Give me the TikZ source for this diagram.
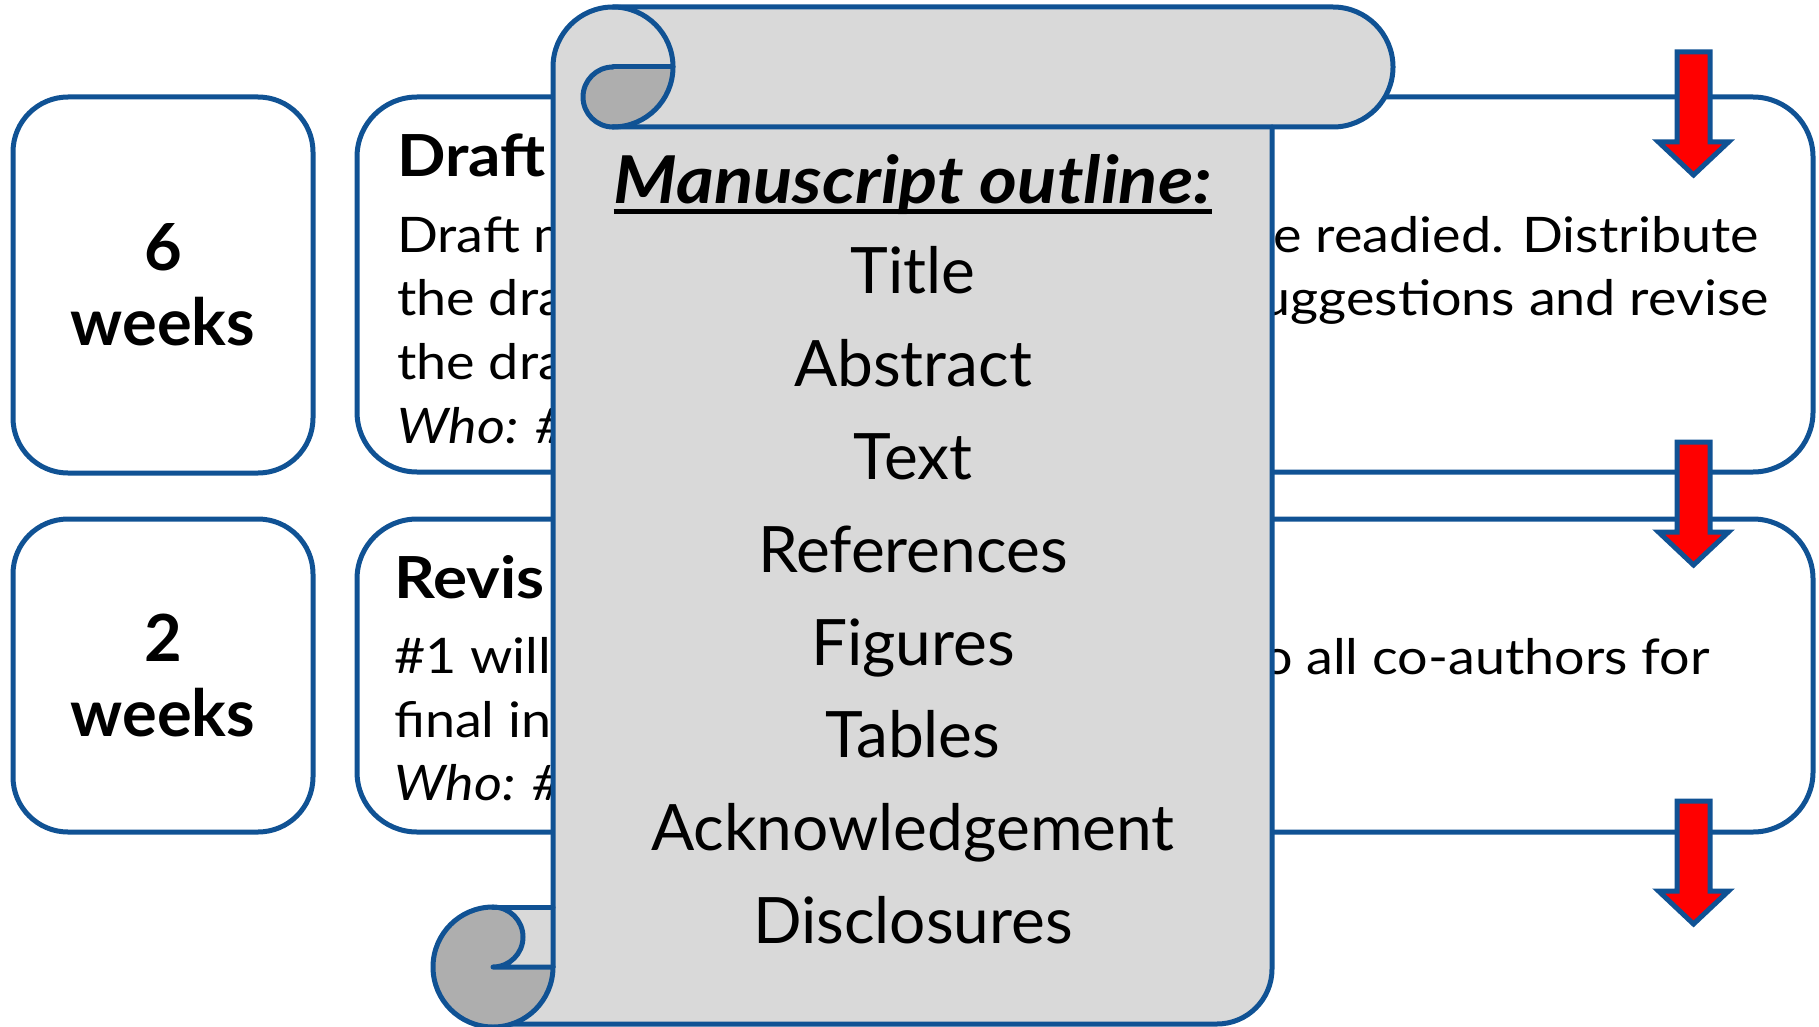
\documentclass[tikz,border=0pt]{standalone}
\usepackage{fontspec}
\setmainfont{Lato}
\newfontfamily\widefont[FakeStretch=1.1]{Lato}
\usetikzlibrary{calc}
\definecolor{bblue}{RGB}{16,82,148}
\definecolor{lgray}{RGB}{217,217,217}
\definecolor{dgray}{RGB}{174,174,174}
\tikzset{
  weekbox/.style={draw=bblue, line width=5pt, rounded corners=55pt, fill=white,
    minimum width=300pt, inner sep=0pt, align=center,
    font=\bfseries\fontsize{65}{75}\selectfont},
  mainbox/.style={draw=bblue, line width=5pt, rounded corners=60pt, fill=white,
    minimum width=1456pt, inner sep=0pt},
  boxtitle/.style={inner sep=0pt, font=\widefont\bfseries\fontsize{58}{64}\selectfont},
  bodytxt/.style={inner sep=0pt, font=\widefont\fontsize{49}{60}\selectfont},
  listtxt/.style={inner sep=0pt, anchor=base, font=\fontsize{64}{70}\selectfont},
  scrollline/.style={draw=bblue, line width=5pt, line cap=round, line join=round},
  dnarrow/.pic={\draw[fill=red, draw=bblue, line width=5pt, line join=miter]
    (-16.5,0) -- (16.5,0) -- (16.5,90) -- (35,90) -- (0,123) -- (-35,90) -- (-16.5,90) -- cycle;}
}
\begin{document}
\begin{tikzpicture}[x=1pt,y=-1pt]
\useasboundingbox (0,0) rectangle (1819,1027);

% left duration boxes
\node[weekbox, minimum height=376pt] (w1) at (163,285) {6\\weeks};
\node[weekbox, minimum height=313pt] (w2) at (163,675.5) {2\\weeks};

% main boxes
\node[mainbox, minimum height=375pt] (m1) at (1085,284.5) {};
\node[mainbox, minimum height=313pt] (m2) at (1085,675.5) {};

% box 1 texts
\node[boxtitle, anchor=base west] (t1) at (397,177) {Draft};
\node[bodytxt, anchor=base west] (a1) at (397,252) {Draft m};
\node[bodytxt, anchor=base west] (a2) at (397,315) {the dra};
\node[bodytxt, anchor=base west] (a3) at (397,379) {the dra};
\node[bodytxt, anchor=base west] (a4) at (397,443) {\itshape Who: \#};
\node[bodytxt, anchor=base east] (r1) at (1759,252) {e readied. Distribute};
\node[bodytxt, anchor=base east] (r2) at (1769,315) {uggestions and revise};

% box 2 texts
\node[boxtitle, anchor=base west] (t2) at (394,598) {Revis};
\node[bodytxt, anchor=base west] (b1) at (394,673) {\#1 will};
\node[bodytxt, anchor=base west] (b2) at (394,737) {final in};
\node[bodytxt, anchor=base west] (b3) at (394,800) {\itshape Who: \#};
\node[bodytxt, anchor=base east] (r3) at (1710,674) {o all co-authors for};

% arrows
\pic at (1693.5,52) {dnarrow};
\pic at (1693.5,442) {dnarrow};
\pic at (1693.5,801) {dnarrow};

% scroll fill
\fill[lgray] (553,67) arc[start angle=180,end angle=270,radius=60] -- (1333,7)
  arc[start angle=270,end angle=450,radius=60] -- (1272,127) -- (1272,969)
  arc[start angle=0,end angle=90,radius=55] -- (512,1024)
  arc[start angle=71.6,end angle=270,radius=60] -- (553,907) -- cycle;
% top curl
\fill[dgray] (613,67) -- (673,67) arc[start angle=0,end angle=90,radius=60]
  arc[start angle=90,end angle=270,radius=30] -- cycle;
% bottom curl
\fill[dgray] (493,967) circle[radius=60];
\fill[lgray] (493,907) -- (553,907) -- (553,967) -- (493,967)
  arc[start angle=90,end angle=-90,radius=30] -- cycle;
% scroll outlines
\draw[scrollline] (553,967) -- (553,67) arc[start angle=180,end angle=270,radius=60]
  -- (1333,7) arc[start angle=270,end angle=450,radius=60] -- (613,127);
\draw[scrollline] (613,7) arc[start angle=270,end angle=450,radius=60];
\draw[scrollline] (613,67) -- (673,67);
\draw[scrollline] (613,127) arc[start angle=90,end angle=270,radius=30];
\draw[scrollline] (1272,127) -- (1272,969) arc[start angle=0,end angle=90,radius=55] -- (512,1024);
\draw[scrollline] (553,967) arc[start angle=0,end angle=270,radius=60];
\draw[scrollline] (493,907) -- (553,907);
\draw[scrollline] (493,907) arc[start angle=-90,end angle=90,radius=30] -- (553,967);

% scroll text
\node[inner sep=0pt, anchor=base, font=\widefont\bfseries\itshape\fontsize{66}{70}\selectfont] (ttl) at (913,204) {Manuscript outline:};
\draw[line width=5pt] ($(ttl.base west)+(0,7)$) -- ($(ttl.base east)+(0,7)$);
\node[listtxt] (i1) at (913,293) {Title};
\node[listtxt] (i2) at (913,386) {Abstract};
\node[listtxt] (i3) at (913,479) {Text};
\node[listtxt] (i4) at (913,572) {References};
\node[listtxt] (i5) at (913,665) {Figures};
\node[listtxt] (i6) at (913,757) {Tables};
\node[listtxt] (i7) at (913,850) {Acknowledgement};
\node[listtxt] (i8) at (913,943) {Disclosures};
\end{tikzpicture}
\end{document}
